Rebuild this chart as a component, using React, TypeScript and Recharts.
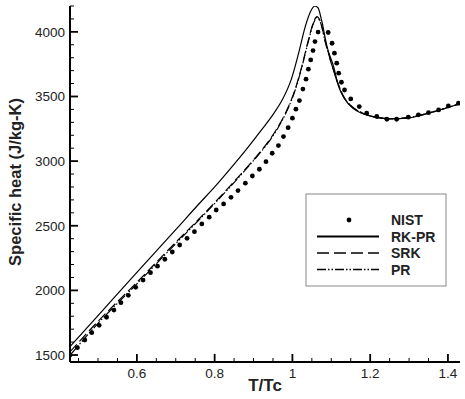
import { ComposedChart, Line, Scatter, XAxis, YAxis } from 'recharts'

// NIST reference points (T/Tc, cp)
const nistT = [
  0.428, 0.447, 0.466, 0.484, 0.503, 0.522, 0.541, 0.559, 0.578, 0.597, 0.616, 0.635, 0.653, 0.672,
  0.691, 0.71, 0.729, 0.748, 0.767, 0.786, 0.804, 0.823, 0.842, 0.86, 0.879, 0.897, 0.915, 0.932,
  0.948, 0.964, 0.977, 0.989, 1.0, 1.009, 1.018, 1.027, 1.035, 1.041, 1.047, 1.053, 1.058, 1.066,
  1.092, 1.102, 1.108, 1.114, 1.119, 1.126, 1.134, 1.15, 1.172, 1.191, 1.217, 1.243, 1.268, 1.298,
  1.324, 1.35, 1.376, 1.401, 1.427
]
const nistCp = [
  1500, 1557, 1616, 1673, 1730, 1792, 1848, 1905, 1962, 2024, 2080, 2137, 2187, 2241,
  2297, 2351, 2403, 2454, 2514, 2566, 2622, 2669, 2720, 2772, 2829, 2885, 2937, 2996,
  3061, 3120, 3190, 3259, 3332, 3402, 3468, 3557, 3634, 3711, 3783, 3855, 3925, 3998,
  3995, 3912, 3835, 3758, 3680, 3610, 3550, 3481, 3422, 3371, 3345, 3324, 3324, 3340,
  3358, 3375, 3396, 3427, 3448
]

const rkprT = [
  0.428, 0.5, 0.6, 0.7, 0.76, 0.8, 0.84, 0.88, 0.92, 0.95, 0.975, 0.998, 1.016, 1.033, 1.047, 1.058,
  1.066, 1.075, 1.089, 1.106, 1.119, 1.135, 1.155, 1.175, 1.2, 1.25, 1.3, 1.35, 1.4, 1.431
]
const rkprCp = [
  1565, 1805, 2140, 2470, 2670, 2800, 2940, 3085, 3240, 3360, 3480, 3640, 3835, 4041, 4160, 4200,
  4185, 4090, 3886, 3731, 3577, 3480, 3410, 3375, 3350, 3328, 3335, 3370, 3415, 3445
]

const srkT = [
  0.428, 0.5, 0.6, 0.7, 0.766, 0.848, 0.9, 0.934, 0.96, 0.985, 1.007, 1.024, 1.041, 1.055, 1.063,
  1.072, 1.085, 1.1, 1.115, 1.13, 1.15, 1.175, 1.2, 1.25, 1.3, 1.35, 1.4, 1.431
]
const srkCp = [
  1525, 1760, 2062, 2372, 2572, 2835, 3010, 3135, 3250, 3390, 3555, 3730, 3935, 4080, 4118,
  4080, 3920, 3760, 3620, 3510, 3430, 3380, 3350, 3328, 3338, 3372, 3415, 3445
]

const prT = [
  0.428, 0.5, 0.6, 0.7, 0.766, 0.848, 0.9, 0.934, 0.96, 0.985, 1.007, 1.024, 1.041, 1.055, 1.063,
  1.072, 1.085, 1.1, 1.115, 1.13, 1.15, 1.175, 1.2, 1.25, 1.3, 1.35, 1.4, 1.431
]
const prCp = [
  1498, 1745, 2050, 2362, 2565, 2828, 3004, 3128, 3243, 3383, 3548, 3723, 3927, 4072, 4110,
  4074, 3916, 3756, 3616, 3506, 3428, 3379, 3349, 3327, 3337, 3371, 3414, 3444
]

const xTicks = [0.45, 0.5, 0.55, 0.6, 0.65, 0.7, 0.75, 0.8, 0.85, 0.9, 0.95, 1, 1.05, 1.1, 1.15, 1.2, 1.25, 1.3, 1.35, 1.4]
const xMajor = [0.6, 0.8, 1, 1.2, 1.4]
const yTicks = [
  1500, 1600, 1700, 1800, 1900, 2000, 2100, 2200, 2300, 2400, 2500, 2600, 2700, 2800,
  2900, 3000, 3100, 3200, 3300, 3400, 3500, 3600, 3700, 3800, 3900, 4000, 4100, 4200
]
const yMajor = [1500, 2000, 2500, 3000, 3500, 4000]

const toRows = (t: number[], cp: number[]) => t.map((v, i) => ({ T: v, cp: cp[i] }))

const font = '"Liberation Sans", Arial, Helvetica, sans-serif'

const XTick = (props: any) => {
  const { x, y, payload } = props
  const major = xMajor.includes(payload.value)
  const axisY = y - 4
  return (
    <g>
      <line x1={x} x2={x} y1={axisY} y2={axisY - (major ? 8 : 4)} stroke="#000" strokeWidth={major ? 1.8 : 1} />
      {major && (
        <text x={x} y={axisY + 16} textAnchor="middle" fontSize={13.5} fontFamily={font} fill="#222">
          {String(payload.value)}
        </text>
      )}
    </g>
  )
}

const YTick = (props: any) => {
  const { x, y, payload } = props
  const major = yMajor.includes(payload.value)
  const axisX = x + 5
  return (
    <g>
      <line x1={axisX} x2={axisX + (major ? 8 : 4)} y1={y} y2={y} stroke="#000" strokeWidth={major ? 1.8 : 1} />
      {major && (
        <text x={x} y={y + 5} textAnchor="end" fontSize={13.5} fontFamily={font} fill="#222">
          {payload.value}
        </text>
      )}
    </g>
  )
}

const legendRows = [
  { name: 'NIST', kind: 'dot' },
  { name: 'RK-PR', kind: 'solid' },
  { name: 'SRK', kind: 'dash' },
  { name: 'PR', kind: 'dashdot' }
]

const LegendBox = () => (
  <g>
    <rect x={306} y={194} width={140} height={92} fill="#fff" stroke="#888" strokeWidth={1} />
    {legendRows.map((r, i) => {
      const cy = 220 + i * 16.5
      return (
        <g key={r.name}>
          {r.kind === 'dot' && <circle cx={349} cy={cy} r={2.4} fill="#000" />}
          {r.kind === 'solid' && <line x1={317} x2={379} y1={cy} y2={cy} stroke="#000" strokeWidth={2} />}
          {r.kind === 'dash' && (
            <line x1={317} x2={379} y1={cy} y2={cy} stroke="#000" strokeWidth={1.6} strokeDasharray="12 5" />
          )}
          {r.kind === 'dashdot' && (
            <line x1={317} x2={379} y1={cy} y2={cy} stroke="#000" strokeWidth={1.6} strokeDasharray="9 2 1.5 2 1.5 2" />
          )}
          <text x={391} y={cy + 5} fontSize={14} fontWeight="bold" fontFamily={font} fill="#222">
            {r.name}
          </text>
        </g>
      )
    })}
  </g>
)

export default function App() {
  return (
    <div style={{ position: 'absolute', left: 0, top: 0, background: '#fff' }}>
      <ComposedChart width={465} height={399} margin={{ top: 6, right: 5, left: 0, bottom: 0 }}>
        <XAxis
          type="number"
          dataKey="T"
          domain={[0.428, 1.431]}
          ticks={xTicks}
          allowDataOverflow
          height={37}
          tickSize={0}
          tickMargin={4}
          tickLine={false}
          axisLine={{ stroke: '#000', strokeWidth: 2 }}
          tick={<XTick />}
          interval={0}
        />
        <YAxis
          type="number"
          dataKey="cp"
          domain={[1446, 4200]}
          ticks={yTicks}
          allowDataOverflow
          width={70}
          tickSize={0}
          tickMargin={5}
          tickLine={false}
          axisLine={{ stroke: '#000', strokeWidth: 2 }}
          tick={<YTick />}
          interval={0}
        />
        <Line
          data={toRows(rkprT, rkprCp)}
          dataKey="cp"
          type="monotoneX"
          stroke="#000"
          strokeWidth={1.2}
          dot={false}
          isAnimationActive={false}
        />
        <Line
          data={toRows(srkT, srkCp)}
          dataKey="cp"
          type="monotoneX"
          stroke="#000"
          strokeWidth={1.2}
          strokeDasharray="10 4"
          dot={false}
          isAnimationActive={false}
        />
        <Line
          data={toRows(prT, prCp)}
          dataKey="cp"
          type="monotoneX"
          stroke="#000"
          strokeWidth={1.2}
          strokeDasharray="9 2 1.5 2 1.5 2"
          dot={false}
          isAnimationActive={false}
        />
        <Scatter
          data={toRows(nistT, nistCp)}
          dataKey="cp"
          fill="#000"
          shape={(p: any) => <circle cx={p.cx} cy={p.cy} r={2.4} fill="#000" />}
          isAnimationActive={false}
        />
        <text
          transform="translate(21,182) rotate(-90)"
          textAnchor="middle"
          fontSize={16.5}
          fontWeight="bold"
          fontFamily={font}
          fill="#222"
        >
          Specific heat (J/kg-K)
        </text>
        <text x={265} y={391} textAnchor="middle" fontSize={17} fontWeight="bold" fontFamily={font} fill="#222">
          T/Tc
        </text>
        <LegendBox />
      </ComposedChart>
    </div>
  )
}
